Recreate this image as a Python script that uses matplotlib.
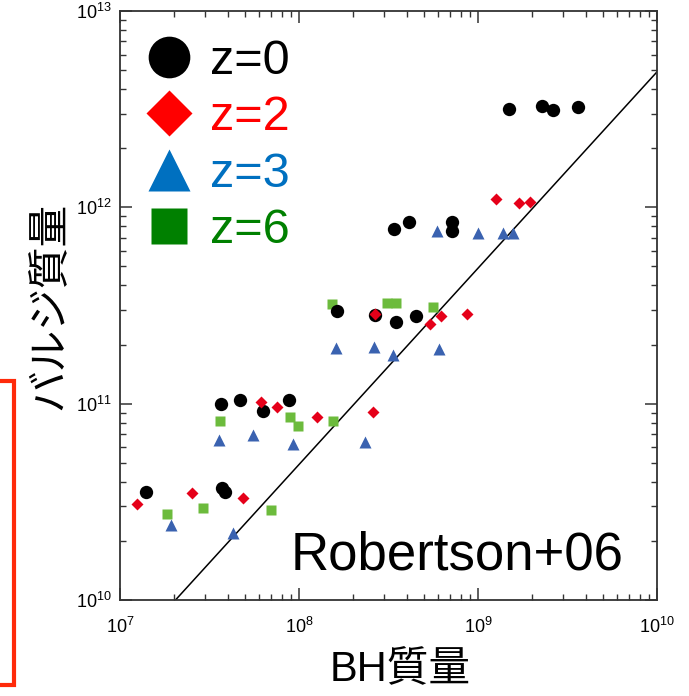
import matplotlib
matplotlib.use("Agg")
import matplotlib.pyplot as plt
from matplotlib.lines import Line2D
from matplotlib.patches import Rectangle
import numpy as np

plt.rcParams['font.family'] = ['Liberation Sans', 'Noto Sans CJK JP', 'DejaVu Sans']
plt.rcParams['mathtext.fontset'] = 'custom'
plt.rcParams['mathtext.rm'] = 'Liberation Sans'
plt.rcParams['mathtext.it'] = 'Liberation Sans'
plt.rcParams['mathtext.bf'] = 'Liberation Sans'

# ---- data (BH mass, bulge mass) ----
z0_bh = [1.40e7, 3.66e7, 4.68e7, 6.32e7, 8.83e7, 3.70e7, 3.86e7, 1.63e8, 2.67e8, 3.48e8,
         4.51e8, 3.40e8, 4.13e8, 7.13e8, 7.13e8, 1.49e9, 2.27e9, 2.61e9, 3.61e9]
z0_bulge = [3.55e10, 1.00e11, 1.04e11, 9.16e10, 1.04e11, 3.70e10, 3.56e10, 2.96e11, 2.82e11, 2.61e11,
            2.81e11, 7.78e11, 8.45e11, 8.45e11, 7.57e11, 3.18e12, 3.27e12, 3.13e12, 3.23e12]

z2_bh = [1.24e7, 2.54e7, 4.84e7, 6.14e7, 7.50e7, 1.26e8, 2.60e8, 2.67e8, 5.40e8, 6.21e8,
         8.65e8, 1.26e9, 1.70e9, 1.95e9]
z2_bulge = [3.07e10, 3.52e10, 3.30e10, 1.02e11, 9.64e10, 8.57e10, 9.10e10, 2.85e11, 2.56e11, 2.81e11,
            2.86e11, 1.10e12, 1.05e12, 1.07e12]

z3_bh = [1.93e7, 4.30e7, 3.59e7, 5.56e7, 9.29e7, 1.61e8, 2.62e8, 2.34e8, 3.37e8, 6.05e8,
         5.87e8, 1.00e9, 1.38e9, 1.57e9]
z3_bulge = [2.41e10, 2.20e10, 6.53e10, 6.92e10, 6.21e10, 1.93e11, 1.95e11, 6.40e10, 1.77e11, 1.89e11,
            7.57e11, 7.43e11, 7.43e11, 7.43e11]

z6_bh = [1.82e7, 2.92e7, 6.98e7, 3.62e7, 8.91e7, 9.91e7, 1.54e8, 1.52e8, 3.09e8, 3.48e8, 5.62e8]
z6_bulge = [2.73e10, 2.95e10, 2.87e10, 8.18e10, 8.51e10, 7.71e10, 8.18e10, 3.21e11, 3.27e11, 3.24e11, 3.12e11]

# Robertson+06 relation: M_bulge = 10**2.69 * M_BH
rel_log_norm = 2.69
rel_slope = 1.0

legend_labels = ['z=0', 'z=2', 'z=3', 'z=6']
legend_colors = ['black', '#ff0000', '#0070c0', '#008000']
legend_markers = ['o', 'D', '^', 's']

xlim = (1e7, 1e10)
ylim = (1e10, 1e13)

fig = plt.figure(figsize=(6.89, 6.96), dpi=100)
ax = fig.add_axes([120/689, 1-600/696, 537/689, 589/696])

# relation line
xl = np.logspace(7, 10, 50)
ax.plot(xl, 10**rel_log_norm * xl**rel_slope, color='black', lw=1.1, zorder=2)

ax.plot(z6_bh, z6_bulge, ls='none', marker='s', ms=7.2, color='#6cbb3c', mec='none', zorder=3)
ax.plot(z0_bh, z0_bulge, ls='none', marker='o', ms=9.6, color='black', mec='none', zorder=4)
ax.plot(z2_bh, z2_bulge, ls='none', marker='D', ms=6.2, color='#e50019', mec='none', zorder=5)
ax.plot(z3_bh, z3_bulge, ls='none', marker='^', ms=8.0, color='#3a62b0', mec='none', zorder=6)

ax.set_xscale('log')
ax.set_yscale('log')
ax.set_xlim(*xlim)
ax.set_ylim(*ylim)

for s in ax.spines.values():
    s.set_linewidth(1.3)
    s.set_color('#333333')

ax.tick_params(which='both', direction='in', top=True, right=True, color='#333333')
ax.tick_params(which='major', length=8.5, width=1.1, labelsize=13)
ax.tick_params(which='minor', length=4.3, width=1.0)
ax.tick_params(axis='x', which='major', pad=12)
ax.tick_params(axis='y', which='major', pad=6)

ax.set_xlabel('BH質量', fontsize=30)
ax.xaxis.set_label_coords(0.521, -0.085, transform=ax.transAxes)
ax.xaxis.label.set_va('top')
ax.set_ylabel('バルジ質量', fontsize=30, labelpad=4)

ax.text(0.937, 0.051, 'Robertson+06', transform=ax.transAxes, fontsize=38,
        ha='right', va='baseline')

handles = [Line2D([], [], ls='none', marker=m, color=c, mec='none',
                  ms=(30 if m in 'o^' else (23.5 if m == 'D' else 26.5)))
           for m, c in zip(legend_markers, legend_colors)]
leg = ax.legend(handles, legend_labels, loc='upper left', bbox_to_anchor=(0.0415, 0.952),
                frameon=False, fontsize=35, labelcolor=legend_colors, handlelength=1.1,
                handletextpad=0.3, labelspacing=0.23, borderpad=0, borderaxespad=0)

fig.patches.append(Rectangle((-20/689, 1-684.5/696), 34/689, (684.5-381)/696,
                             transform=fig.transFigure, fill=False, ec='#ff2a0a', lw=3.0))

fig.savefig('out.png', dpi=100)
